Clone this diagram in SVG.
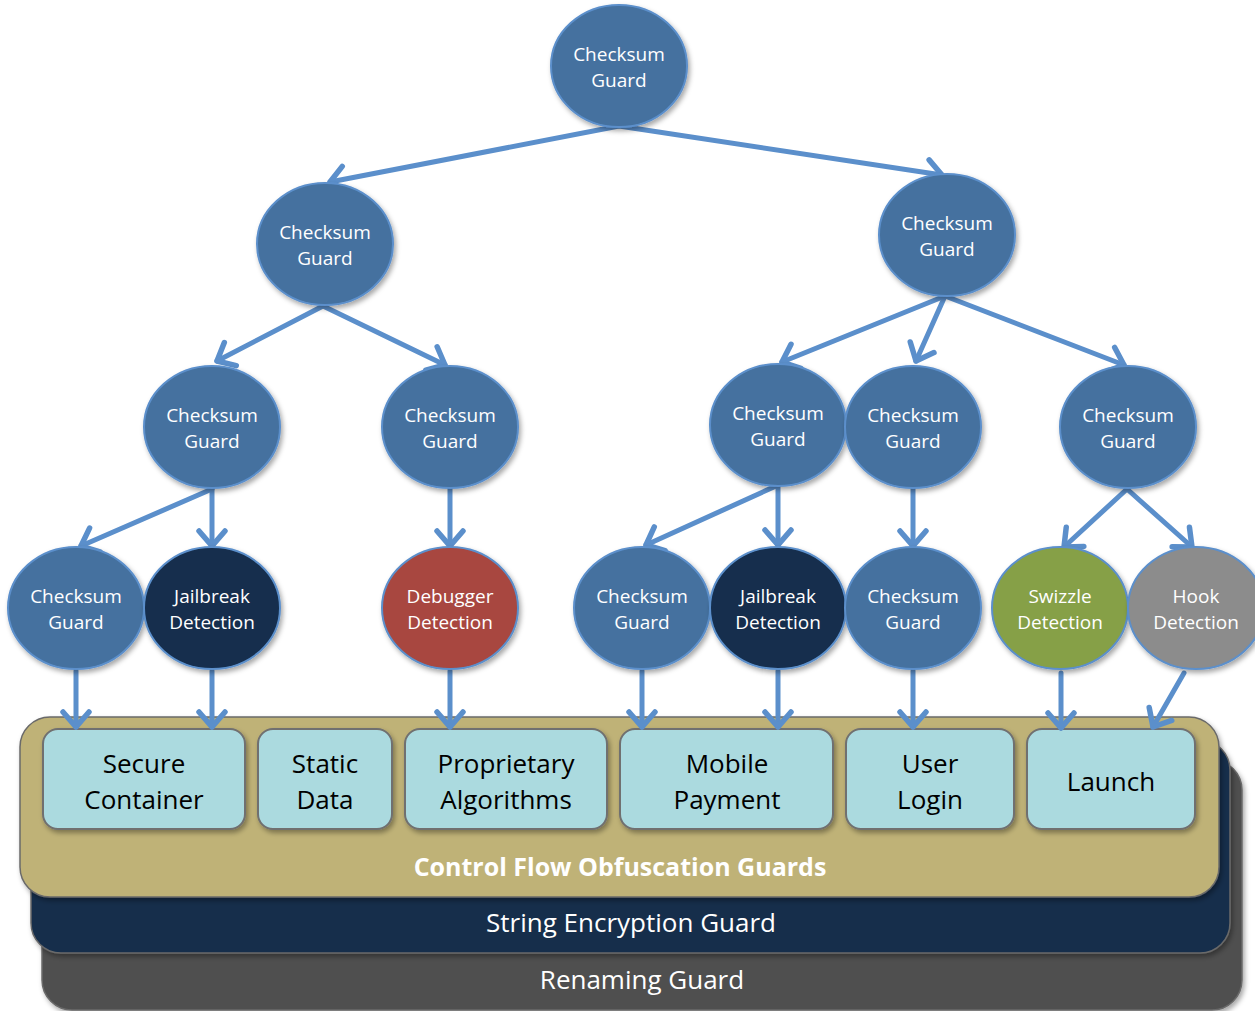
<svg xmlns="http://www.w3.org/2000/svg" width="1255" height="1011" viewBox="0 0 1255 1011">
<defs>
  <filter id="sh" x="-20%" y="-20%" width="140%" height="140%">
    <feDropShadow dx="2" dy="3" stdDeviation="2.5" flood-color="#000" flood-opacity="0.35"/>
  </filter>
  <marker id="ah" markerUnits="userSpaceOnUse" markerWidth="44" markerHeight="44" viewBox="-22 -22 44 44" refX="0" refY="0" orient="auto">
    <path d="M-15,-13 L0,0 L-15,13" fill="none" stroke="#5b8fcb" stroke-width="5.5" stroke-linecap="round" stroke-linejoin="round"/>
  </marker>
  <style>
    .n{stroke:#5b8fcb;stroke-width:2;filter:url(#sh)}
    .cg{fill:#44719f}
    .jb{fill:#142e4d}
    .db{fill:#a8463f}
    .sw{fill:#86a046}
    .hk{fill:#8c8c8c}
    .nt{font-family:"Open Sans","Liberation Sans",sans-serif;font-size:19px;fill:#fff;text-anchor:middle}
    .bx{fill:#abdadf;stroke:#707070;stroke-width:2;filter:url(#sh)}
    .bt{font-family:"Open Sans","Liberation Sans",sans-serif;font-size:26px;fill:#000;text-anchor:middle}
    .lt{font-family:"Open Sans","Liberation Sans",sans-serif;font-size:26px;fill:#fff;text-anchor:middle}
    .ltb{font-family:"Open Sans","Liberation Sans",sans-serif;font-size:25px;font-weight:bold;fill:#fff;text-anchor:middle}
    .c line{stroke:#5b8fcb;stroke-width:5;stroke-linecap:round;marker-end:url(#ah)}
  </style>
</defs>
<rect width="1255" height="1011" fill="#fff"/>

<g id="layer-renaming">
  <rect x="42" y="760" width="1200" height="250" rx="30" fill="#505050" stroke="#6a6a6a" stroke-width="1.5" filter="url(#sh)"/>
  <text class="lt" x="642" y="989">Renaming Guard</text>
</g>
<g id="layer-string">
  <rect x="31" y="740" width="1199" height="213" rx="30" fill="#142d4c" stroke="#6a6a6a" stroke-width="1.5" filter="url(#sh)"/>
  <text class="lt" x="631" y="932">String Encryption Guard</text>
</g>
<g id="layer-cfo">
  <rect x="20" y="717" width="1199" height="180" rx="30" fill="#bfb277" stroke="#6a6a6a" stroke-width="1.5" filter="url(#sh)"/>
  <text class="ltb" x="620" y="876">Control Flow Obfuscation Guards</text>
</g>

<g id="box-secure-container">
  <rect class="bx" x="43" y="729" width="202" height="100" rx="15"/>
  <text class="bt" x="144" y="773">Secure</text>
  <text class="bt" x="144" y="809">Container</text>
</g>
<g id="box-static-data">
  <rect class="bx" x="258" y="729" width="134" height="100" rx="15"/>
  <text class="bt" x="325" y="773">Static</text>
  <text class="bt" x="325" y="809">Data</text>
</g>
<g id="box-proprietary">
  <rect class="bx" x="405" y="729" width="202" height="100" rx="15"/>
  <text class="bt" x="506" y="773">Proprietary</text>
  <text class="bt" x="506" y="809">Algorithms</text>
</g>
<g id="box-mobile-payment">
  <rect class="bx" x="620" y="729" width="213" height="100" rx="15"/>
  <text class="bt" x="727" y="773">Mobile</text>
  <text class="bt" x="727" y="809">Payment</text>
</g>
<g id="box-user-login">
  <rect class="bx" x="846" y="729" width="168" height="100" rx="15"/>
  <text class="bt" x="930" y="773">User</text>
  <text class="bt" x="930" y="809">Login</text>
</g>
<g id="box-launch">
  <rect class="bx" x="1027" y="729" width="168" height="100" rx="15"/>
  <text class="bt" x="1111" y="791">Launch</text>
</g>

<g id="connectors" class="c">
  <line x1="619" y1="126" x2="330" y2="182"/>
  <line x1="619" y1="126" x2="942" y2="175"/>
  <line x1="323" y1="306" x2="217" y2="361"/>
  <line x1="323" y1="306" x2="445" y2="365"/>
  <line x1="945" y1="296" x2="782" y2="362"/>
  <line x1="945" y1="296" x2="916" y2="361"/>
  <line x1="945" y1="296" x2="1124" y2="365"/>
  <line x1="212" y1="489" x2="81" y2="546"/>
  <line x1="212" y1="489" x2="212" y2="546"/>
  <line x1="450" y1="489" x2="450" y2="546"/>
  <line x1="776" y1="486" x2="646" y2="545"/>
  <line x1="778" y1="486" x2="778" y2="545"/>
  <line x1="913" y1="489" x2="913" y2="546"/>
  <line x1="1127" y1="489" x2="1064" y2="547"/>
  <line x1="1127" y1="489" x2="1192" y2="547"/>
  <line x1="76" y1="671" x2="76" y2="727"/>
  <line x1="212" y1="671" x2="212" y2="727"/>
  <line x1="450" y1="671" x2="450" y2="727"/>
  <line x1="642" y1="671" x2="642" y2="727"/>
  <line x1="778" y1="671" x2="778" y2="727"/>
  <line x1="913" y1="671" x2="913" y2="727"/>
  <line x1="1061" y1="673" x2="1061" y2="728"/>
  <line x1="1184" y1="673" x2="1153" y2="727"/>
</g>

<g id="n-root"><ellipse class="n cg" cx="619" cy="66" rx="68" ry="61"/><text class="nt" x="619" y="61">Checksum</text><text class="nt" x="619" y="87">Guard</text></g>
<g id="n-l1a"><ellipse class="n cg" cx="325" cy="244" rx="68" ry="61"/><text class="nt" x="325" y="239">Checksum</text><text class="nt" x="325" y="265">Guard</text></g>
<g id="n-l1b"><ellipse class="n cg" cx="947" cy="235" rx="68" ry="61"/><text class="nt" x="947" y="230">Checksum</text><text class="nt" x="947" y="256">Guard</text></g>

<g id="n-l2a"><ellipse class="n cg" cx="212" cy="427" rx="68" ry="61"/><text class="nt" x="212" y="422">Checksum</text><text class="nt" x="212" y="448">Guard</text></g>
<g id="n-l2b"><ellipse class="n cg" cx="450" cy="427" rx="68" ry="61"/><text class="nt" x="450" y="422">Checksum</text><text class="nt" x="450" y="448">Guard</text></g>
<g id="n-l2c"><ellipse class="n cg" cx="778" cy="425" rx="68" ry="61"/><text class="nt" x="778" y="420">Checksum</text><text class="nt" x="778" y="446">Guard</text></g>
<g id="n-l2d"><ellipse class="n cg" cx="913" cy="427" rx="68" ry="61"/><text class="nt" x="913" y="422">Checksum</text><text class="nt" x="913" y="448">Guard</text></g>
<g id="n-l2e"><ellipse class="n cg" cx="1128" cy="427" rx="68" ry="61"/><text class="nt" x="1128" y="422">Checksum</text><text class="nt" x="1128" y="448">Guard</text></g>

<g id="n-l3a"><ellipse class="n cg" cx="76" cy="608" rx="68" ry="61"/><text class="nt" x="76" y="603">Checksum</text><text class="nt" x="76" y="629">Guard</text></g>
<g id="n-l3b"><ellipse class="n jb" cx="212" cy="608" rx="68" ry="61"/><text class="nt" x="212" y="603">Jailbreak</text><text class="nt" x="212" y="629">Detection</text></g>
<g id="n-l3c"><ellipse class="n db" cx="450" cy="608" rx="68" ry="61"/><text class="nt" x="450" y="603">Debugger</text><text class="nt" x="450" y="629">Detection</text></g>
<g id="n-l3d"><ellipse class="n cg" cx="642" cy="608" rx="68" ry="61"/><text class="nt" x="642" y="603">Checksum</text><text class="nt" x="642" y="629">Guard</text></g>
<g id="n-l3e"><ellipse class="n jb" cx="778" cy="608" rx="68" ry="61"/><text class="nt" x="778" y="603">Jailbreak</text><text class="nt" x="778" y="629">Detection</text></g>
<g id="n-l3f"><ellipse class="n cg" cx="913" cy="608" rx="68" ry="61"/><text class="nt" x="913" y="603">Checksum</text><text class="nt" x="913" y="629">Guard</text></g>
<g id="n-l3g"><ellipse class="n sw" cx="1060" cy="608" rx="68" ry="61"/><text class="nt" x="1060" y="603">Swizzle</text><text class="nt" x="1060" y="629">Detection</text></g>
<g id="n-l3h"><ellipse class="n hk" cx="1196" cy="608" rx="68" ry="61"/><text class="nt" x="1196" y="603">Hook</text><text class="nt" x="1196" y="629">Detection</text></g>
</svg>
